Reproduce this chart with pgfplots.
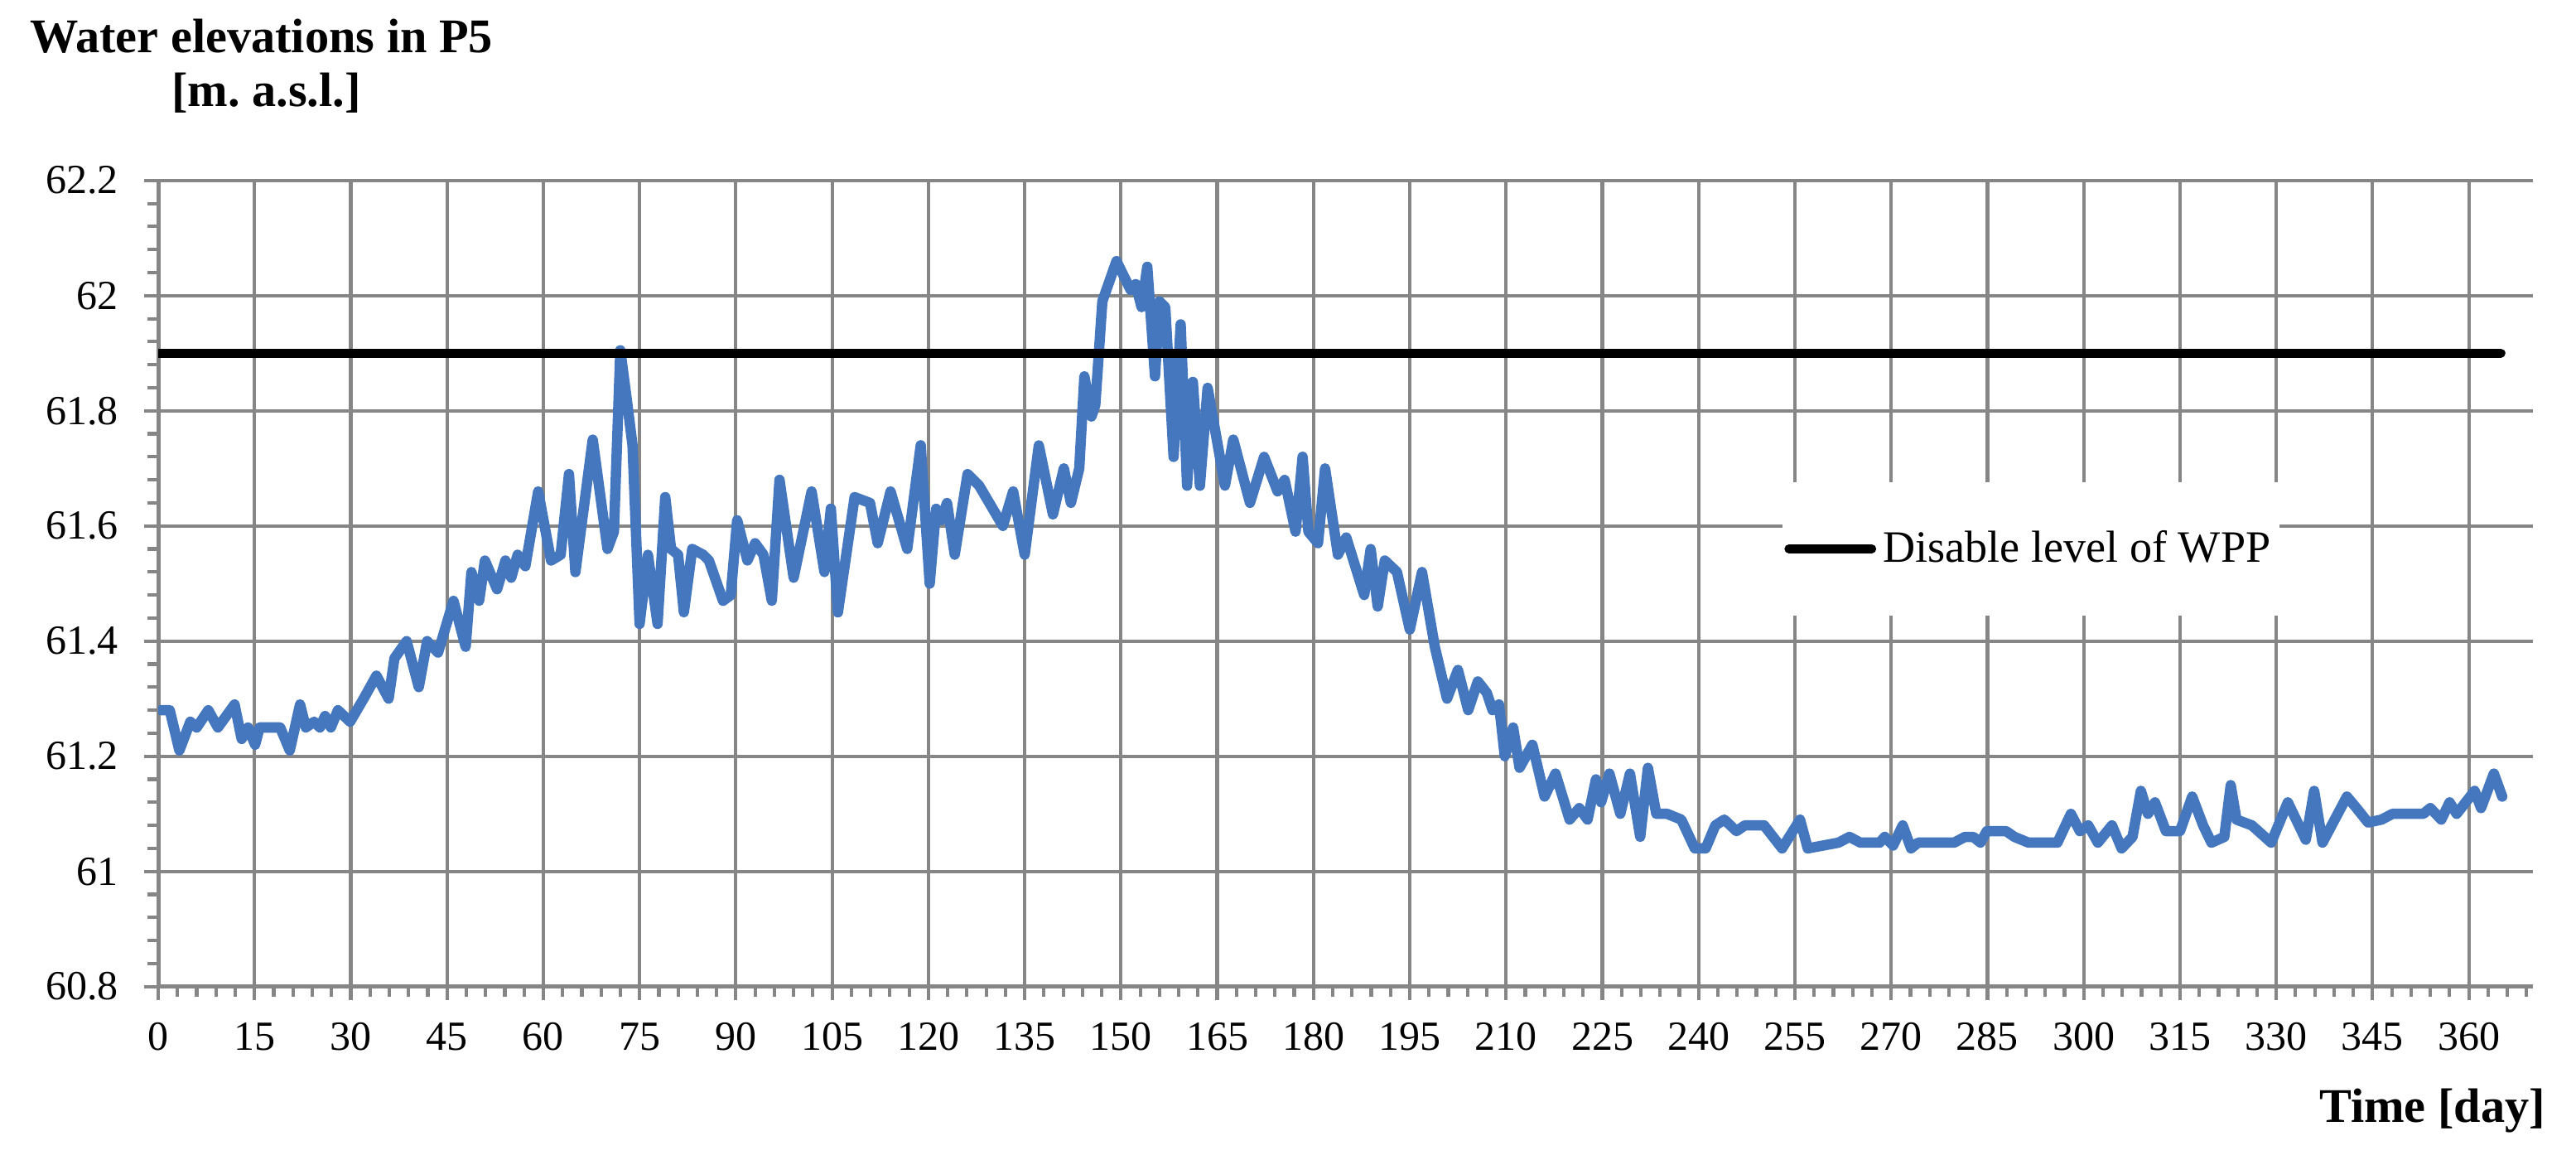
\documentclass[border=0pt]{standalone}
\usepackage{pgfplots}
\pgfplotsset{compat=1.18}
\usepackage{fontspec}
\setmainfont{Liberation Serif}
\frenchspacing
\definecolor{wblue}{RGB}{68,119,190}
\definecolor{gridgray}{RGB}{134,134,134}
\begin{document}
\begin{tikzpicture}
\useasboundingbox (-45.84pt,-50.0pt) rectangle (700.56pt,285.77pt);
\begin{axis}[
  at={(0,0)}, anchor=south west,
  scale only axis, width=688.1pt, height=233.5pt,
  xmin=0, xmax=370, ymin=60.8, ymax=62.2,
  axis x line=bottom, axis y line=left,
  axis line style={-, draw=gridgray, line width=1.2pt},
  xtick={0,15,...,360},
  minor xtick={3,6,...,369},
  ytick={60.8,61,61.2,61.4,61.6,61.8,62,62.2},
  minor ytick={60.84,60.88,60.92,60.96,61.04,61.08,61.12,61.16,61.24,61.28,61.32,61.36,61.44,61.48,61.52,61.56,61.64,61.68,61.72,61.76,61.84,61.88,61.92,61.96,62.04,62.08,62.12,62.16},
  grid=major,
  major grid style={draw=gridgray, line width=1pt},
  tick align=outside,
  major tick length=4pt, minor tick length=3pt,
  tick style={draw=gridgray, line width=1pt},
  tick label style={font=\fontsize{12}{14}\selectfont},
  /pgf/number format/assume math mode=true,
  yticklabel style={/pgf/number format/fixed, /pgf/number format/precision=1, xshift=-4pt},
  xticklabel style={yshift=-3pt},
  legend style={at={(0.7886,0.543)}, anchor=center, draw=none, fill=white,
    inner xsep=0.5pt, inner ysep=12pt, font=\fontsize{13}{15}\selectfont},
  legend cell align=left,
  legend image code/.code={\draw[#1, line cap=round] (0pt,0pt) -- (24pt,0pt);},
]
\addplot[wblue, line width=3pt, line join=round, line cap=round, forget plot] table {
x y
0.5 61.28
1.8 61.28
3.3 61.21
5 61.26
6 61.25
7.8 61.28
9.3 61.25
11.9 61.29
13 61.23
14 61.25
15.1 61.22
15.8 61.25
18.3 61.25
19 61.25
20.5 61.21
22.1 61.29
23 61.25
24.3 61.26
25.2 61.25
26 61.27
26.9 61.25
28 61.28
29.9 61.26
32 61.30
34 61.34
35.9 61.30
36.8 61.37
38.7 61.40
40.6 61.32
41.9 61.40
43.6 61.38
46 61.47
47.9 61.39
48.8 61.52
50 61.47
50.9 61.54
52.8 61.49
54.1 61.54
55 61.51
56 61.55
57.2 61.53
59.2 61.66
61.2 61.54
62.7 61.55
64 61.69
65 61.52
67.7 61.75
70 61.56
71 61.59
72 61.905
73 61.82
73.9 61.74
75 61.43
76.3 61.55
77.8 61.43
79 61.65
79.9 61.56
81 61.55
81.9 61.45
83.2 61.56
84.9 61.55
85.8 61.54
88 61.47
89.2 61.48
90.2 61.61
91.8 61.54
93 61.57
94.3 61.55
95.6 61.47
96.8 61.68
99 61.51
101.8 61.66
103.8 61.52
104.8 61.63
105.9 61.45
108.5 61.65
110.9 61.64
112.1 61.57
114.1 61.66
116.7 61.56
118.8 61.74
120.2 61.50
121.2 61.63
122 61.61
122.9 61.64
124.1 61.55
126.1 61.69
127.9 61.67
131.6 61.60
133.2 61.66
135 61.55
137.2 61.74
139.4 61.62
141.1 61.70
142.2 61.64
143.5 61.70
144.3 61.86
145.4 61.79
146 61.81
147.1 61.99
149.3 62.06
151.5 62.01
152.3 62.02
153.2 61.98
154.1 62.05
155.3 61.86
156 61.99
156.9 61.98
158.2 61.72
159.3 61.95
160.3 61.67
161.2 61.85
162.3 61.67
163.5 61.84
166.2 61.67
167.5 61.75
170.1 61.64
172.3 61.72
174.4 61.66
175.5 61.68
177.2 61.59
178.3 61.72
179.2 61.59
180.7 61.57
181.8 61.70
183.8 61.55
185.1 61.58
187.9 61.48
188.9 61.56
190 61.46
191.1 61.54
193 61.52
195 61.42
196.9 61.52
198.9 61.39
200.8 61.30
202.5 61.35
204.1 61.28
205.6 61.33
207 61.31
207.9 61.28
208.9 61.29
209.8 61.20
211.1 61.25
212.1 61.18
214.1 61.22
216 61.13
217.7 61.17
219.9 61.09
221.4 61.11
222.7 61.09
224 61.16
224.8 61.12
226.1 61.17
227.8 61.10
229.3 61.17
230.9 61.06
232.1 61.18
233.4 61.10
235.1 61.10
237.3 61.09
239.4 61.04
241.1 61.04
242.6 61.08
244 61.09
245.9 61.07
247.2 61.08
250.2 61.08
253 61.04
255.8 61.09
257 61.04
261.8 61.05
263.5 61.06
265.2 61.05
268.2 61.05
269 61.06
270.3 61.045
271.8 61.08
273.1 61.04
274.2 61.05
279.8 61.05
281.5 61.06
282.8 61.06
283.9 61.05
284.9 61.07
287.9 61.07
289.2 61.06
291.4 61.05
295.9 61.05
298 61.10
299.4 61.07
300.7 61.08
302.2 61.05
304.4 61.08
305.9 61.04
307.6 61.06
308.9 61.14
310 61.10
311.1 61.12
312.8 61.07
315 61.07
316.9 61.13
318.6 61.08
319.9 61.05
321.9 61.06
322.9 61.15
323.8 61.09
326.2 61.08
329.2 61.05
331.8 61.12
334.6 61.055
335.9 61.14
337.2 61.05
341 61.13
342.5 61.11
344.3 61.085
346.4 61.09
348.1 61.10
352.9 61.10
354 61.11
355.7 61.09
357 61.12
358.1 61.10
360.9 61.14
361.9 61.11
363.9 61.17
365.2 61.13
};
\addplot[black, line width=2.6pt, line cap=round] coordinates {(0,61.9) (365,61.9)};
\addlegendentry{Disable level of WPP}
\end{axis}
\node[anchor=base, font=\bfseries\fontsize{14}{17}\selectfont] at (29.9pt,270.6pt) {Water elevations in P5};
\node[anchor=base, font=\bfseries\fontsize{14}{17}\selectfont] at (31.3pt,255.0pt) {\relax[m. a.s.l.]};
\node[anchor=base east, font=\bfseries\fontsize{14}{17}\selectfont] at (695.2pt,-39.4pt) {Time [day]};
\end{tikzpicture}
\end{document}
